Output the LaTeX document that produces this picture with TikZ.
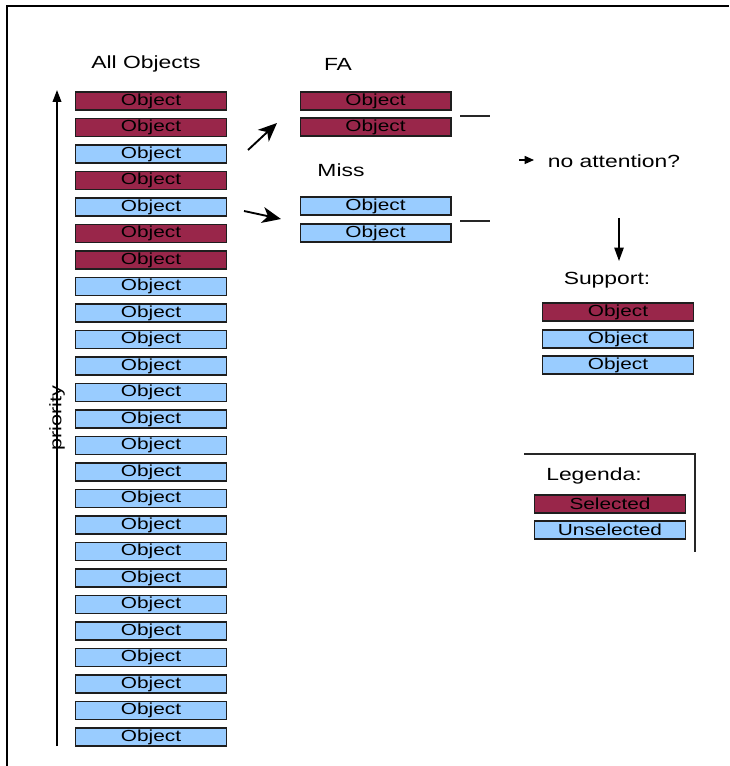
\documentclass[tikz,border=0pt]{standalone}
\usepackage{fontspec}
\usepackage{graphicx}
\setmainfont{Liberation Sans}
\usetikzlibrary{arrows.meta}
\definecolor{selred}{RGB}{153,38,74}
\definecolor{unselblue}{RGB}{153,204,255}
\definecolor{boxedge}{RGB}{30,30,30}
% text in this figure is set slightly wider than the font's natural shape
\newcommand{\widetext}[1]{\scalebox{1.3}[1]{#1}}
\begin{document}
\begin{tikzpicture}[x=0.75pt,y=-0.75pt,
  objbox/.style={draw=boxedge, line width=1pt, rectangle, inner sep=0pt,
    minimum width=113pt, minimum height=13.5pt,
    font=\fontsize{12}{12}\selectfont, text=black},
  title/.style={inner sep=0pt, font=\fontsize{13.2}{14}\selectfont, text=black},
  bigarrow/.style={line width=1.4pt, -{Stealth[length=14pt,width=12pt,inset=4pt]}},
  smallarrow/.style={line width=1pt, -{Triangle[length=7pt,width=6pt]}},
  rule/.style={line width=1.2pt, draw=black!85}]
\useasboundingbox (0,0) rectangle (729,766);

% outer frame (top and left edges)
\draw[line width=1.5pt] (6.5,766) -- (6.5,6.5) -- (729,6.5);

% headings
\node[title] (allobj) at (146,64) {\widetext{All Objects}};
\node[title] (fa) at (338,64) {\widetext{FA}};
\node[title] (miss) at (341,170) {\widetext{Miss}};

% full object list, ordered by priority
\foreach \c [count=\i] in {selred,selred,unselblue,selred,unselblue,selred,selred,
  unselblue,unselblue,unselblue,unselblue,unselblue,unselblue,unselblue,unselblue,
  unselblue,unselblue,unselblue,unselblue,unselblue,unselblue,unselblue,unselblue,
  unselblue,unselblue}
  \node[objbox, fill=\c] (obj\i) at (151,{101+26.5*(\i-1)}) {\widetext{Object}};

% priority axis
\coordinate (pbot) at (57,746);
\coordinate (ptop) at (57,90);
\draw[line width=1.3pt, -{Triangle[length=9pt,width=6.5pt]}] (pbot) -- (ptop);
\node[rotate=90, inner sep=0pt, font=\fontsize{12.5}{13}\selectfont] (prio) at (57,418) {\scalebox{1.3}[1]{priority}};

% false alarms
\node[objbox, fill=selred] (fa1) at (375.5,101) {\widetext{Object}};
\node[objbox, fill=selred] (fa2) at (375.5,127) {\widetext{Object}};
% misses
\node[objbox, fill=unselblue] (miss1) at (375.5,206) {\widetext{Object}};
\node[objbox, fill=unselblue] (miss2) at (375.5,233) {\widetext{Object}};

% arrows from the list to the two groups
\coordinate (a1s) at (248,150);
\coordinate (a1e) at (277,123);
\coordinate (a2s) at (244,211);
\coordinate (a2e) at (281,219);
\draw[bigarrow] (a1s) -- (a1e);
\draw[bigarrow] (a2s) -- (a2e);

% short rules beside each group
\coordinate (r1s) at (460,116);
\coordinate (r1e) at (490,116);
\coordinate (r2s) at (460,221);
\coordinate (r2e) at (490,221);
\draw[rule] (r1s) -- (r1e);
\draw[rule] (r2s) -- (r2e);

% question and support set
\coordinate (q1) at (519,160);
\coordinate (q2) at (534,160);
\draw[smallarrow] (q1) -- (q2);
\node[title] (noatt) at (614,161) {\widetext{no attention?}};

\coordinate (d1) at (619,218);
\coordinate (d2) at (619,261);
\draw[line width=1.1pt, -{Triangle[length=10pt,width=7pt]}] (d1) -- (d2);

\node[title] (support) at (607,280) {\widetext{Support:}};
\node[objbox, fill=selred] (sup1) at (618,312) {\widetext{Object}};
\node[objbox, fill=unselblue] (sup2) at (618,339) {\widetext{Object}};
\node[objbox, fill=unselblue] (sup3) at (618,365) {\widetext{Object}};

% legend
\draw[line width=1.3pt, draw=black!85] (524,454) -- (695,454) -- (695,552);
\node[title] (legenda) at (594,476) {\widetext{Legenda:}};
\node[objbox, fill=selred] (legsel) at (610,504) {\widetext{Selected}};
\node[objbox, fill=unselblue] (legunsel) at (610,530) {\widetext{Unselected}};
\end{tikzpicture}
\end{document}
